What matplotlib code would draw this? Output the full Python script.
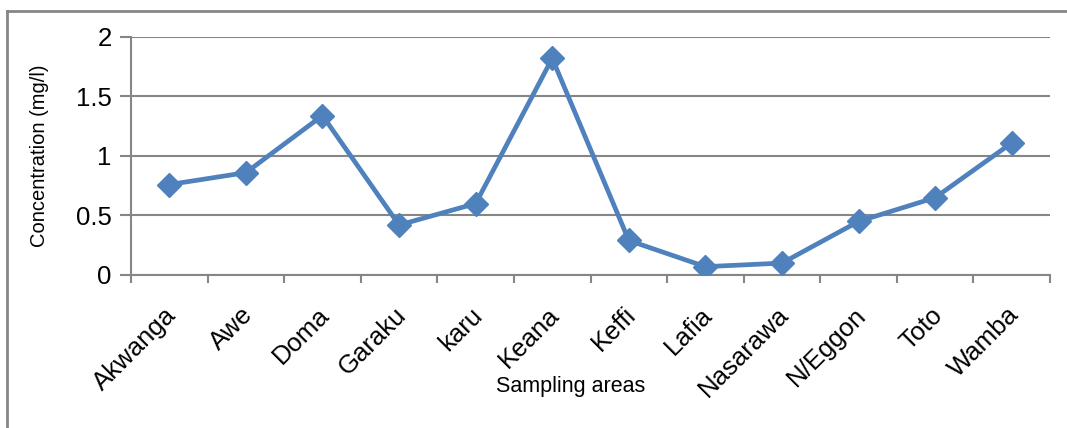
import matplotlib.pyplot as plt
import matplotlib.transforms as mtransforms
import numpy as np
from matplotlib.lines import Line2D

plt.rcParams['font.family'] = ['Liberation Sans', 'DejaVu Sans']

# Sampling areas and concentration values (mg/l)
areas = ['Akwanga', 'Awe', 'Doma', 'Garaku', 'karu', 'Keana', 'Keffi',
         'Lafia', 'Nasarawa', 'N/Eggon', 'Toto', 'Wamba']
conc = [0.76, 0.86, 1.34, 0.42, 0.60, 1.82, 0.29, 0.07, 0.10, 0.45, 0.65, 1.11]
yticks = [0, 0.5, 1, 1.5, 2]
ytick_labels = ['0', '0.5', '1', '1.5', '2']

grey = '#868686'
blue = '#4F81BD'

fig = plt.figure(figsize=(10.67, 4.28), dpi=100)
ax = fig.add_axes([0.1228, 0.3575, 0.8613, 0.5561])

x = np.arange(len(areas))
ax.plot(x, conc, color=blue, lw=3.4, marker='D', markersize=12, zorder=3)

ax.set_xlim(-0.5, len(areas) - 0.5)
ax.set_ylim(0, 2)

# category ticks sit between categories, labels at centres
ax.set_xticks(np.arange(len(areas) + 1) - 0.5)
ax.set_xticklabels([])
ax.set_xticks(x, minor=True)
ax.set_xticklabels(areas, minor=True, rotation=45, ha='right',
                   rotation_mode='anchor', fontsize=18.5)
ax.tick_params(axis='x', which='minor', length=0, pad=20)
ax.tick_params(axis='x', which='major', length=6, width=1.5, color=grey)
shift = mtransforms.ScaledTranslation(-5 / 100, 0, fig.dpi_scale_trans)
for lab in ax.get_xticklabels(minor=True):
    lab.set_transform(lab.get_transform() + shift)

ax.set_yticks(yticks)
ax.set_yticklabels(ytick_labels, fontsize=18.5)
ax.tick_params(axis='y', length=8, width=1.5, color=grey, pad=6)
ax.yaxis.grid(True, color=grey, lw=1.5)
ax.set_axisbelow(True)

for s in ['top', 'right']:
    ax.spines[s].set_visible(False)
for s in ['left', 'bottom']:
    ax.spines[s].set_color(grey)
    ax.spines[s].set_linewidth(1.5)

ax.set_ylabel('Concentration (mg/l)', fontsize=14.5)
ax.yaxis.set_label_coords(-0.089, 0.5)
ax.set_xlabel('Sampling areas', fontsize=15.5)
ax.xaxis.set_label_coords(0.478, -0.424)

# outer chart frame, cut off at right and bottom
fx0, fy0 = 7 / 1067, 1 - 11 / 428
fig.add_artist(Line2D([fx0, fx0], [fy0, -0.1], color=grey, lw=2,
                      transform=fig.transFigure))
fig.add_artist(Line2D([fx0, 1.1], [fy0, fy0], color=grey, lw=2,
                      transform=fig.transFigure))

fig.savefig('out.png', dpi=100)
